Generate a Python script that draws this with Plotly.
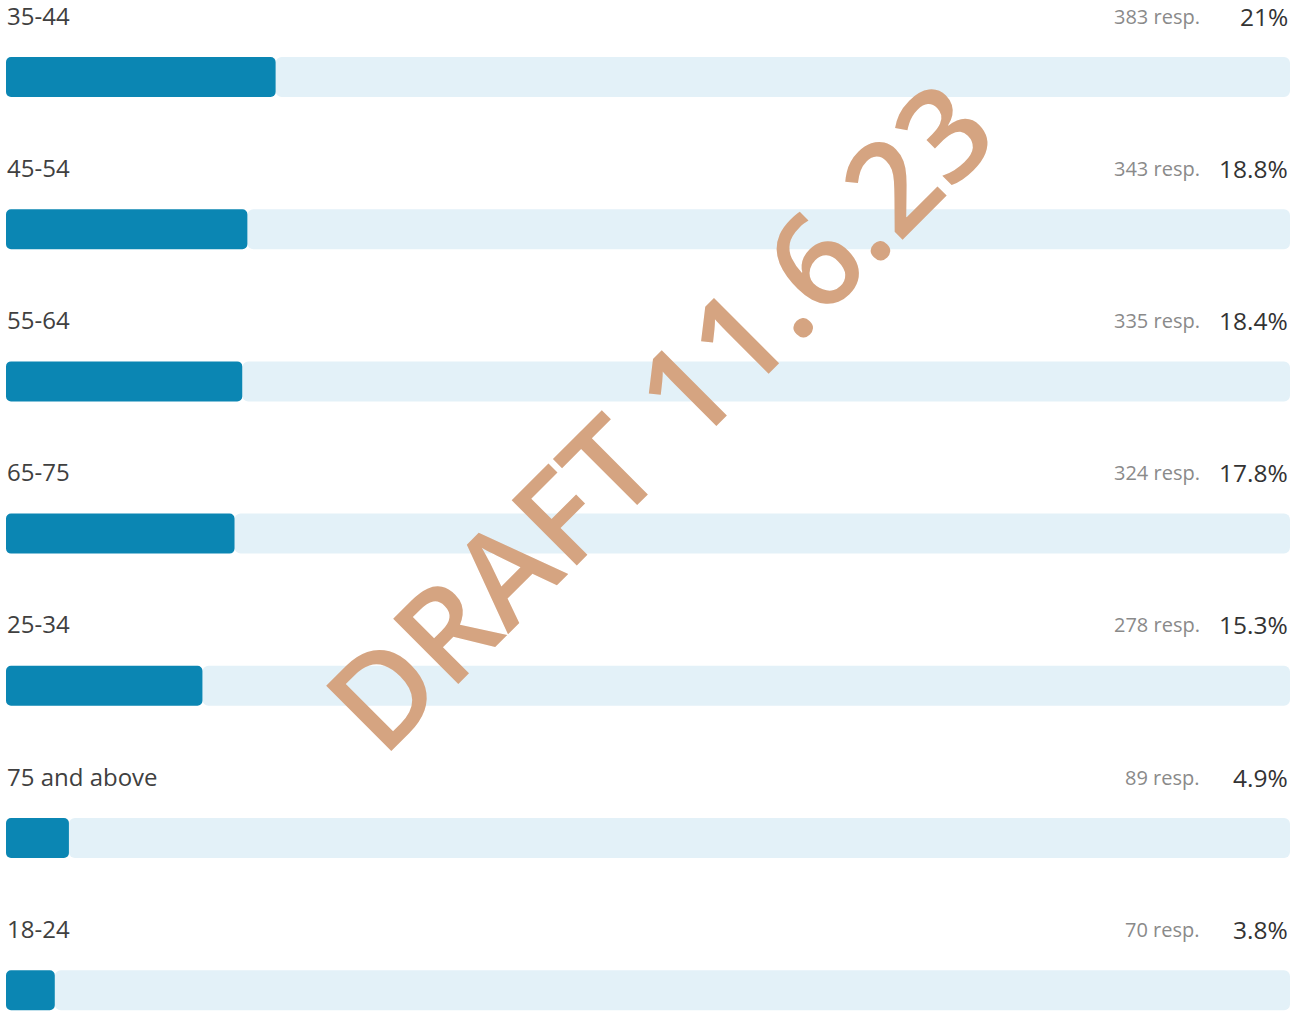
import plotly.graph_objects as go

# Age-group survey breakdown, sorted by share
age_groups = ["35-44", "45-54", "55-64", "65-75", "25-34", "75 and above", "18-24"]
responses = [383, 343, 335, 324, 278, 89, 70]
percents = [21, 18.8, 18.4, 17.8, 15.3, 4.9, 3.8]
pct_labels = ["21%", "18.8%", "18.4%", "17.8%", "15.3%", "4.9%", "3.8%"]

W, H = 1291, 1011
ROW_PX = 152.2          # vertical pitch between rows
FIRST_BAR_PX = 77       # centre of the first bar from the top
BAR_PX = 40             # bar thickness

FILL = "#0B86B3"
TRACK = "#E3F1F8"

y_top = -FIRST_BAR_PX / ROW_PX
y_bottom = y_top + H / ROW_PX
bar_w = BAR_PX / ROW_PX

fig = go.Figure()

# light track from the end of each bar to 100 %
fig.add_trace(go.Bar(
    y=age_groups, x=[100 - p for p in percents], base=percents,
    orientation="h", width=bar_w, marker=dict(color=TRACK, cornerradius=6, line_width=0),
    hoverinfo="skip", showlegend=False,
))
# filled share, drawn from its value back to zero so the rounded end sits at the left
fig.add_trace(go.Bar(
    y=age_groups, x=[-p for p in percents], base=percents,
    orientation="h", width=bar_w, marker=dict(color=FILL, cornerradius=5, line_width=0),
    hoverinfo="skip", showlegend=False,
))

LABEL_SHIFT = 62
for g, n, pl in zip(age_groups, responses, pct_labels):
    fig.add_annotation(x=0, y=g, xref="x", yref="y", text=g, showarrow=False,
                       xanchor="left", yanchor="middle", xshift=-1, yshift=LABEL_SHIFT,
                       font=dict(family="Open Sans", size=24, color="#404040"))
    fig.add_annotation(x=100, y=g, xref="x", yref="y", text=f"{n} resp.", showarrow=False,
                       xanchor="right", yanchor="middle", xshift=-88, yshift=LABEL_SHIFT - 1,
                       font=dict(family="Open Sans", size=20, color="#8a8a8a"))
    fig.add_annotation(x=100, y=g, xref="x", yref="y", text=pl, showarrow=False,
                       xanchor="right", yanchor="middle", xshift=0, yshift=LABEL_SHIFT - 1,
                       font=dict(family="Open Sans", size=24.5, color="#333333"))

# diagonal draft watermark
fig.add_annotation(x=655 / W, y=1 - 414 / H, xref="paper", yref="paper",
                   text="DRAFT 11.6.23", showarrow=False, textangle=-45,
                   xanchor="center", yanchor="middle",
                   font=dict(family="Open Sans", size=129, weight=600, color="#D5A481"))

fig.update_layout(
    width=W, height=H,
    margin=dict(l=6, r=1, t=0, b=0),
    paper_bgcolor="white", plot_bgcolor="white",
    barmode="overlay",
    xaxis=dict(range=[0, 100], visible=False, fixedrange=True),
    yaxis=dict(type="category", categoryorder="array", categoryarray=age_groups,
               range=[y_bottom, y_top], visible=False, fixedrange=True),
)

fig.write_html("out.html", config={"displayModeBar": False})
